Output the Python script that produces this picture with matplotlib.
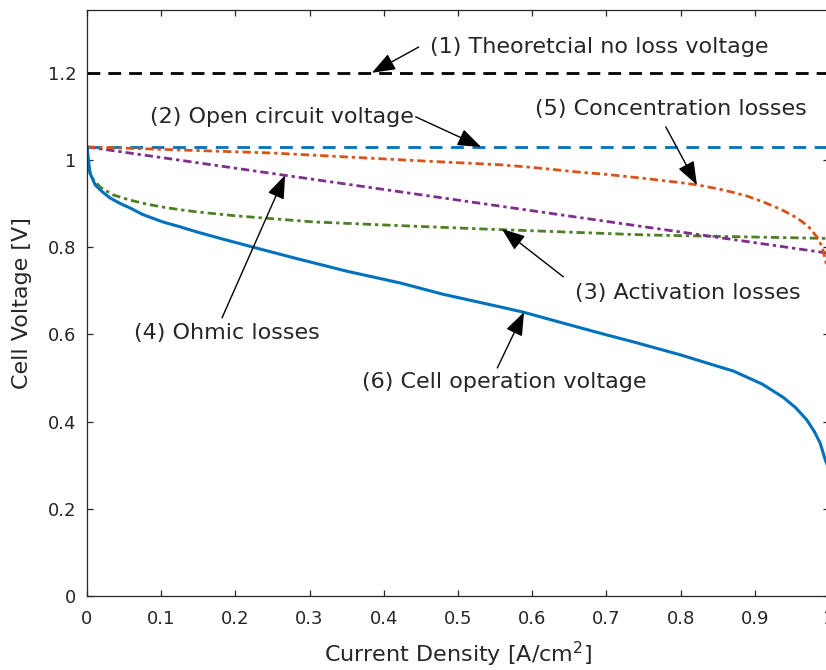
import matplotlib
matplotlib.use('Agg')
import matplotlib.pyplot as plt

# current density [A/cm2] and voltages [V]
e_theory = 1.2
e_ocv = 1.03

cell_i = [0, 0.004, 0.011, 0.02, 0.031, 0.045, 0.058, 0.075, 0.102, 0.125, 0.148, 0.18,
          0.224, 0.28, 0.35, 0.422, 0.48, 0.557, 0.588, 0.65, 0.70, 0.736, 0.80, 0.84,
          0.871, 0.91, 0.938, 0.955, 0.970, 0.98, 0.988, 0.995, 1.0]
cell_v = [1.03, 0.97, 0.943, 0.928, 0.913, 0.90, 0.89, 0.875, 0.858, 0.847, 0.835, 0.82,
          0.80, 0.775, 0.745, 0.718, 0.692, 0.663, 0.651, 0.622, 0.599, 0.583, 0.553, 0.532,
          0.516, 0.486, 0.456, 0.432, 0.404, 0.378, 0.351, 0.312, 0.29]

act_i = [0, 0.002, 0.006, 0.0175, 0.035, 0.058, 0.08, 0.102, 0.125, 0.148, 0.2, 0.305,
         0.4, 0.53, 0.755, 1.0]
act_v = [1.03, 0.985, 0.96, 0.938, 0.92, 0.908, 0.899, 0.892, 0.886, 0.881, 0.872, 0.858,
         0.851, 0.842, 0.828, 0.82]

ohm_i = [0, 0.25, 0.5, 0.75, 1.0]
ohm_v = [1.03, 0.969, 0.908, 0.847, 0.786]

conc_i = [0, 0.125, 0.25, 0.35, 0.45, 0.557, 0.6, 0.664, 0.7, 0.75, 0.8, 0.822, 0.85,
          0.87, 0.89, 0.911, 0.935, 0.957, 0.972, 0.984, 0.991, 0.995, 1.0]
conc_v = [1.03, 1.023, 1.016, 1.007, 0.998, 0.989, 0.983, 0.972, 0.967, 0.958, 0.948,
          0.943, 0.934, 0.926, 0.917, 0.904, 0.887, 0.867, 0.848, 0.823, 0.80, 0.771, 0.74]

# (text, text x, text y, ha, arrow tail, arrow head)
notes = [
    ('(1) Theoretcial no loss voltage', 0.462, 1.259, 'left', (0.447, 1.259), (0.384, 1.2)),
    ('(2) Open circuit voltage', 0.440, 1.099, 'right', (0.443, 1.099), (0.531, 1.03)),
    ('(3) Activation losses', 0.658, 0.695, 'left', (0.642, 0.732), (0.559, 0.842)),
    ('(4) Ohmic losses', 0.063, 0.603, 'left', (0.182, 0.638), (0.267, 0.965)),
    ('(5) Concentration losses', 0.604, 1.117, 'left', (0.780, 1.076), (0.822, 0.943)),
    ('(6) Cell operation voltage', 0.371, 0.491, 'left', (0.553, 0.523), (0.589, 0.651)),
]

blue = '#0072BD'
orange = '#D95319'
purple = '#7E2F8E'
green = '#4F7F24'
dark = '#262626'

fig = plt.figure(figsize=(8.26, 6.70), dpi=100)
ax = fig.add_axes([87/826, 74/670, 742/826, 586/670])

lw = 2.0
ax.plot([0, 1], [e_theory, e_theory], color='k', lw=lw, dashes=(4.6, 2.9))
ax.plot([0, 1], [e_ocv, e_ocv], color=blue, lw=lw, dashes=(4.6, 3.1))
ax.plot(act_i, act_v, color=green, lw=lw, dashes=(3.0, 1.4, 1.2, 1.4))
ax.plot(ohm_i, ohm_v, color=purple, lw=lw, dashes=(3.0, 1.4, 1.2, 1.4))
ax.plot(conc_i, conc_v, color=orange, lw=lw, dashes=(3.0, 1.4, 1.2, 1.4))
ax.plot(cell_i, cell_v, color=blue, lw=2.2)

for text, tx, ty, ha, tail, head in notes:
    ax.annotate('', xy=head, xytext=tail,
                arrowprops=dict(arrowstyle='-|>,head_length=0.8,head_width=0.3',
                                color='k', lw=1.0, shrinkA=0, shrinkB=0,
                                mutation_scale=18))
    ax.text(tx, ty, text, ha=ha, va='center', fontsize=16, color=dark)

ax.set_xlim(0, 1)
ax.set_ylim(0, 1.344)
ax.set_xticks([0, 0.1, 0.2, 0.3, 0.4, 0.5, 0.6, 0.7, 0.8, 0.9, 1])
ax.set_xticklabels(['0', '0.1', '0.2', '0.3', '0.4', '0.5', '0.6', '0.7', '0.8', '0.9', '1'])
ax.set_yticks([0, 0.2, 0.4, 0.6, 0.8, 1, 1.2])
ax.set_yticklabels(['0', '0.2', '0.4', '0.6', '0.8', '1', '1.2'])
ax.tick_params(direction='in', top=True, right=True, length=4.5, width=0.9,
               colors=dark, labelsize=13)
ax.tick_params(axis='x', pad=10)
ax.tick_params(axis='y', pad=7.5)
for s in ax.spines.values():
    s.set_color(dark)
    s.set_linewidth(0.9)

ax.set_xlabel('Current Density [A/cm$^2$]', fontsize=16, color=dark)
ax.set_ylabel('Cell Voltage [V]', fontsize=16, color=dark)
ax.xaxis.set_label_coords(0.5, -0.074)
ax.yaxis.set_label_coords(-0.074, 0.5)

fig.savefig('out.png', dpi=100)
